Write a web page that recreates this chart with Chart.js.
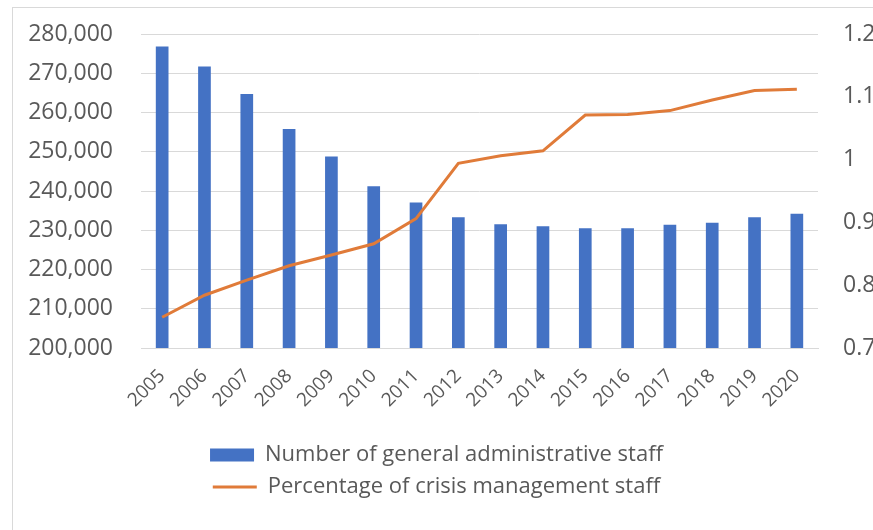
<!DOCTYPE html>
<html>
<head>
<meta charset="utf-8">
<script src="https://cdn.jsdelivr.net/npm/chart.js@4/dist/chart.umd.min.js"></script>
<style>
  html, body { margin: 0; padding: 0; background: #fff; }
  #wrap { position: relative; width: 873px; height: 530px; overflow: hidden; }
  #frame { position: absolute; left: 12px; top: 7px; width: 900px; height: 600px;
           border-left: 1px solid #d9d9d9; border-top: 1px solid #d9d9d9; }
  #chart { position: absolute; left: 0; top: 0; }
</style>
</head>
<body>
<div id="wrap">
  <div id="frame"></div>
  <canvas id="chart" width="873" height="530"></canvas>
</div>
<script>
// values
var years = ["2005","2006","2007","2008","2009","2010","2011","2012",
             "2013","2014","2015","2016","2017","2018","2019","2020"];
var admin_staff = [276800, 271700, 264700, 255800, 248800, 241200, 237100, 233300,
                   231500, 231000, 230500, 230500, 231400, 231900, 233300, 234200];
var crisis_pct = [0.749, 0.784, 0.808, 0.831, 0.848, 0.866, 0.906, 0.994,
                  1.006, 1.014, 1.071, 1.072, 1.078, 1.095, 1.110, 1.112];

var bar_color = "#4472C4";
var line_color = "#E07B39";
var grid_color = "#d9d9d9";
var text_color = "#595959";
var font_family = "'Open Sans', sans-serif";

var ctx = document.getElementById("chart");
var myChart = new Chart(ctx, {
    data: {
        labels: years,
        datasets: [
            {
                type: "line",
                label: "Percentage of crisis management staff",
                data: crisis_pct,
                yAxisID: "y1",
                borderColor: line_color,
                backgroundColor: line_color,
                borderWidth: 3,
                pointRadius: 0,
                pointStyle: "line",
                tension: 0,
                order: 0
            },
            {
                type: "bar",
                label: "Number of general administrative staff",
                data: admin_staff,
                yAxisID: "y",
                backgroundColor: bar_color,
                borderWidth: 0,
                barPercentage: 0.3,
                categoryPercentage: 1.0,
                pointStyle: "rect",
                order: 1
            }
        ]
    },
    options: {
        responsive: false,
        animation: false,
        layout: { padding: { top: 34, left: 0, right: 0, bottom: 22 } },
        plugins: {
            tooltip: { enabled: false },
            legend: {
                position: "bottom",
                reverse: true,
                labels: {
                    color: text_color,
                    font: { family: font_family, size: 22 },
                    usePointStyle: true,
                    pointStyleWidth: 44,
                    boxHeight: 13,
                    padding: 10
                }
            }
        },
        scales: {
            x: {
                grid: { display: false },
                border: { display: true, color: grid_color },
                ticks: {
                    color: text_color,
                    font: { family: font_family, size: 19 },
                    minRotation: 45,
                    maxRotation: 45,
                    padding: 9
                },
                afterFit: function(scale) { scale.height = 86; }
            },
            y: {
                position: "left",
                min: 200000,
                max: 280000,
                // invisible tick marks push the labels away from the plot
                grid: { color: grid_color, drawTicks: true, tickLength: 28, tickColor: "rgba(0,0,0,0)" },
                border: { display: false },
                ticks: {
                    stepSize: 10000,
                    color: text_color,
                    font: { family: font_family, size: 23 },
                    padding: 0
                },
                afterFit: function(scale) { scale.width = 141; }
            },
            y1: {
                position: "right",
                min: 0.7,
                max: 1.2,
                grid: { drawOnChartArea: false, drawTicks: true, tickLength: 25, tickColor: "rgba(0,0,0,0)" },
                border: { display: false },
                ticks: {
                    stepSize: 0.1,
                    color: text_color,
                    font: { family: font_family, size: 23 },
                    padding: 0,
                    callback: function(v) { return String(Math.round(v * 10) / 10); }
                },
                afterFit: function(scale) { scale.width = 873 - 818; }
            }
        }
    }
});
</script>
</body>
</html>
